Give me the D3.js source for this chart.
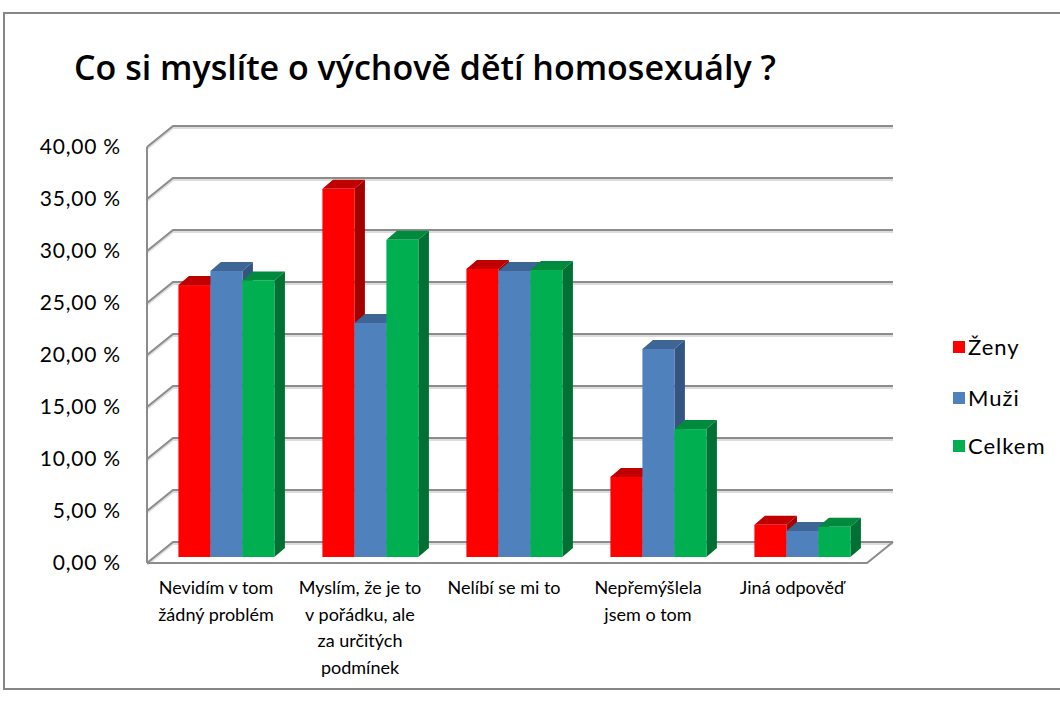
<!DOCTYPE html>
<html>
<head>
<meta charset="utf-8">
<script src="https://cdn.jsdelivr.net/npm/d3@7"></script>
<style>
  body { margin: 0; background: #fff; }
  text { font-family: Lato, "Open Sans", sans-serif; fill: #000; }
</style>
</head>
<body>
<script>
// data
var categories = ["Nevidím v tom žádný problém", "Myslím, že je to v pořádku, ale za určitých podmínek", "Nelíbí se mi to", "Nepřemýšlela jsem o tom", "Jiná odpověď"];
var categoryLines = [
  ["Nevidím v tom", "žádný problém"],
  ["Myslím, že je to", "v pořádku, ale", "za určitých", "podmínek"],
  ["Nelíbí se mi to"],
  ["Nepřemýšlela", "jsem o tom"],
  ["Jiná odpověď"]
];
var series = ["Ženy", "Muži", "Celkem"];
var zeny = [0.2615, 0.354, 0.277, 0.077, 0.031];
var muzi = [0.275, 0.225, 0.275, 0.200, 0.025];
var celkem = [0.266, 0.305, 0.276, 0.123, 0.029];
var yTicks = [0, 0.05, 0.10, 0.15, 0.20, 0.25, 0.30, 0.35, 0.40];
var title = "Co si myslíte o výchově dětí homosexuály ?";

var colors = {
  "Ženy":   {front: "#ff0000", top: "#c00000", side: "#a30000"},
  "Muži":   {front: "#4f81bd", top: "#3d6595", side: "#34557f"},
  "Celkem": {front: "#00b050", top: "#008a3e", side: "#007034"}
};

var w = 1060, h = 704;
var wallDx = 26, wallDy = 21;      // depth of the floor / side wall
var barDx = 10.5, barDy = 9;       // depth of one bar
var barShift = 0.285;              // where bars stand on the floor

var svg = d3.select("body").append("svg")
  .attr("width", w)
  .attr("height", h);

// outer frame
svg.append("rect")
  .attr("x", 4).attr("y", 13)
  .attr("width", 1070).attr("height", 676)
  .attr("fill", "none")
  .attr("stroke", "#868686")
  .attr("stroke-width", 2);

svg.append("text")
  .attr("x", 74).attr("y", 80)
  .style("font-family", "'Open Sans', Lato, sans-serif")
  .style("font-size", "34px")
  .style("font-weight", 600)
  .text(title);

var x = d3.scaleBand().domain(categories).range([147, 867]);
var x1 = d3.scaleBand().domain(series).range([24, 120]);
var y = d3.scaleLinear().domain([0, 0.4]).range([563, 147]);

var fmt = d3.formatLocale({decimal: ",", thousands: " ", grouping: [3], currency: ["", ""]}).format(".2f");

// walls and gridlines
var grid = svg.append("g");
yTicks.forEach(function(t){
  var yy = y(t);
  var pts = [[147, yy], [147 + wallDx, yy - wallDy], [893, yy - wallDy]];
  grid.append("polyline")
    .attr("points", pts.map(function(p){ return p[0] + "," + (p[1] + 2); }).join(" "))
    .attr("fill", "none").attr("stroke", "#dcdcdc").attr("stroke-width", 2);
  grid.append("polyline")
    .attr("points", pts.map(function(p){ return p.join(","); }).join(" "))
    .attr("fill", "none").attr("stroke", "#8c8c8c").attr("stroke-width", 2);
});
grid.append("line")
  .attr("x1", 147).attr("y1", y(0.4)).attr("x2", 147).attr("y2", y(0))
  .attr("stroke", "#8c8c8c").attr("stroke-width", 2);
grid.append("polyline")
  .attr("points", [[147, y(0)], [867, y(0)], [867 + wallDx, y(0) - wallDy]].map(function(p){ return p.join(","); }).join(" "))
  .attr("fill", "none").attr("stroke", "#8c8c8c").attr("stroke-width", 2);

// y axis labels
svg.append("g").selectAll("text")
  .data(yTicks)
  .enter()
  .append("text")
  .attr("x", 121)
  .attr("y", function(d){ return y(d); })
  .attr("dy", "0.35em")
  .attr("text-anchor", "end")
  .attr("font-size", 21)
  .attr("letter-spacing", 0.8)
  .text(function(d){ return fmt(d * 100) + " %"; });

// bars
var values = {"Ženy": zeny, "Muži": muzi, "Celkem": celkem};
var bars = svg.append("g");
categories.forEach(function(c, i){
  series.forEach(function(s){
    var v = values[s][i];
    var x0 = x(c) + x1(s) + wallDx * barShift;
    var xr = x0 + x1.bandwidth();
    var yb = y(0) - wallDy * barShift;
    var yt = y(v) - wallDy * barShift;
    var col = colors[s];
    bars.append("polygon")
      .attr("points", [[x0, yt], [x0 + barDx, yt - barDy], [xr + barDx, yt - barDy], [xr, yt]].join(" "))
      .attr("fill", col.top);
    bars.append("polygon")
      .attr("points", [[xr, yt], [xr + barDx, yt - barDy], [xr + barDx, yb - barDy], [xr, yb]].join(" "))
      .attr("fill", col.side);
    bars.append("rect")
      .attr("x", x0).attr("y", yt)
      .attr("width", x1.bandwidth()).attr("height", yb - yt)
      .attr("fill", col.front);
  });
});

// category labels
var xl = svg.append("g").selectAll("text")
  .data(categories)
  .enter()
  .append("text")
  .attr("text-anchor", "middle")
  .attr("font-size", 18);
xl.each(function(c, i){
  d3.select(this).selectAll("tspan")
    .data(categoryLines[i])
    .enter()
    .append("tspan")
    .attr("x", x(c) + x.bandwidth() / 2 - 3)
    .attr("y", function(d, j){ return 594 + j * 26.5; })
    .text(function(d){ return d; });
});

// legend
var legend = svg.append("g").selectAll("g")
  .data(series)
  .enter()
  .append("g")
  .attr("transform", function(d, i){ return "translate(953," + [347, 398, 446][i] + ")"; });
legend.append("rect")
  .attr("x", 0).attr("y", -6)
  .attr("width", 12).attr("height", 12)
  .attr("fill", function(d){ return colors[d].front; });
legend.append("text")
  .attr("x", 15).attr("dy", "0.35em")
  .attr("font-size", 22)
  .attr("letter-spacing", 1)
  .text(function(d){ return d; });
</script>
</body>
</html>
